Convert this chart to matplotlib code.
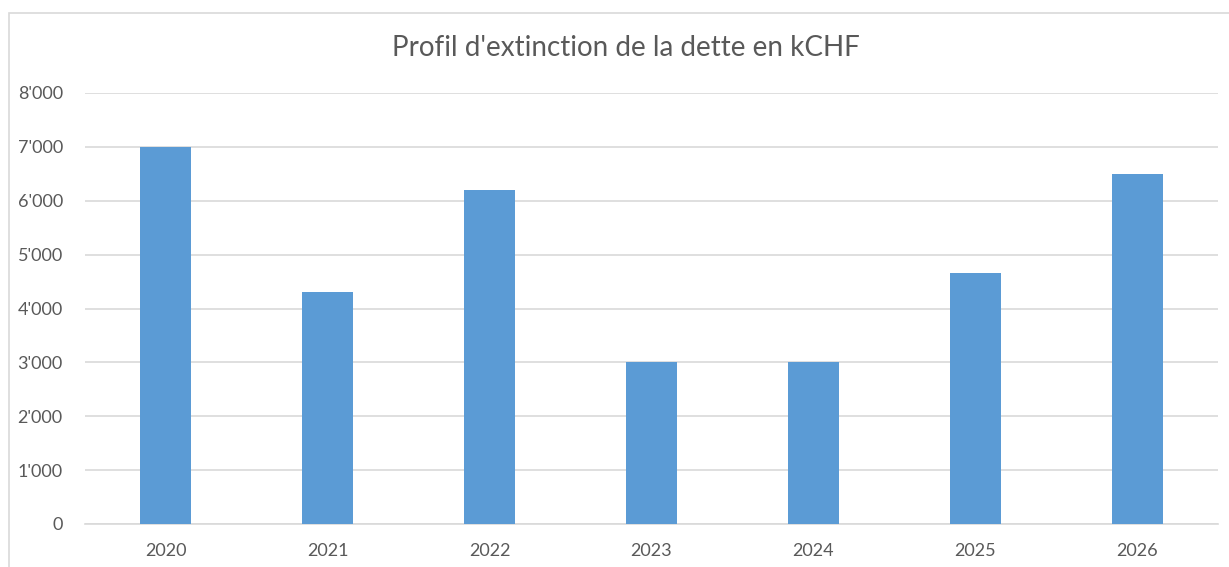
import matplotlib
matplotlib.use("Agg")
import matplotlib.pyplot as plt
from matplotlib.patches import Rectangle
from matplotlib.ticker import FuncFormatter

years = ["2020", "2021", "2022", "2023", "2024", "2025", "2026"]
amounts = [7000, 4300, 6200, 3000, 3000, 4650, 6500]
title = "Profil d'extinction de la dette en kCHF"

plt.rcParams['font.family'] = ['Lato', 'DejaVu Sans']

W, H = 1229, 567
fig = plt.figure(figsize=(W / 100, H / 100), dpi=100)
ax = fig.add_axes([85 / W, (H - 524) / H, (1218 - 85) / W, (524 - 93) / H])

# cadre du graphique (gris clair, sort de l'image à droite et en bas)
fig.patches.append(Rectangle((8.5 / W, -0.05), 1.1, (H - 12.5) / H + 0.05,
                             transform=fig.transFigure, fill=False,
                             edgecolor="#D9D9D9", linewidth=1.2))

x = range(len(years))
ax.bar(x, amounts, width=0.315, color="#5B9BD5", zorder=3)

ax.set_xlim(-0.5, len(years) - 0.5)
ax.set_ylim(0, 8000)
ax.set_yticks(range(0, 8001, 1000))
ax.yaxis.set_major_formatter(FuncFormatter(lambda v, p: f"{int(v):,}".replace(",", "'")))
ax.set_xticks(list(x))
ax.set_xticklabels(years)

ax.grid(axis="y", color="#D9D9D9", linewidth=1.2, zorder=0)
for s in ["top", "right", "left"]:
    ax.spines[s].set_visible(False)
ax.spines["bottom"].set_color("#D9D9D9")
ax.spines["bottom"].set_linewidth(1.2)
ax.tick_params(axis="both", length=0, labelsize=13, labelcolor="#595959")
ax.tick_params(axis="y", pad=16)
ax.tick_params(axis="x", pad=14)

fig.text(626 / W, 1 - 48 / H, title, ha="center", va="center",
         fontsize=20, color="#595959")

fig.savefig("out.png", dpi=100)
